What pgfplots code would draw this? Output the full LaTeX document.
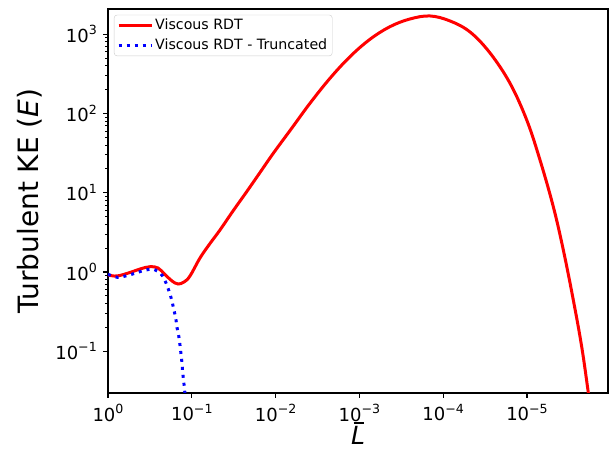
\documentclass[border=0pt]{standalone}
\usepackage{fontspec}
\setmainfont{DejaVu Sans}
\usepackage{pgfplots}
\pgfplotsset{compat=1.18}
\newcommand\sx[1]{\raisebox{0.42em}{\fontsize{12.6pt}{12.6pt}\selectfont #1}}
\begin{document}
\fontsize{18pt}{20pt}\selectfont
\begin{tikzpicture}
\useasboundingbox (-108pt,-56pt) rectangle (502pt,393pt);
\begin{axis}[
  at={(0pt,0pt)}, anchor=south west,
  scale only axis, width=500pt, height=384pt,
  xmode=log, ymode=log, x dir=reverse,
  xmin=1.08e-6, xmax=1, ymin=0.0298, ymax=2070,
  axis line style={line width=1.5pt},
  tick align=outside, xtick pos=left, ytick pos=left,
  major tick length=5pt, minor tick length=3pt,
  major tick style={line width=1.1pt, black},
  minor tick style={line width=0.8pt, black},
  xtick={1,0.1,0.01,0.001,0.0001,0.00001},
  xticklabels={10\sx{0},10\sx{−1},10\sx{−2},10\sx{−3},10\sx{−4},10\sx{−5}},
  ytick={0.1,1,10,100,1000},
  yticklabels={10\sx{−1},10\sx{0},10\sx{1},10\sx{2},10\sx{3}},
  tick label style={font=\fontsize{18pt}{20pt}\selectfont},
  xlabel={\rlap{\hspace{0.1em}\rule[0.82em]{0.42em}{0.08em}}\textit{L}},
  ylabel={Turbulent KE (\textit{E})},
  x label style={font=\fontsize{25pt}{27pt}\selectfont, at={(axis description cs:0.5,-0.133)},anchor=base},
  y label style={font=\fontsize{28pt}{30pt}\selectfont, at={(axis description cs:-0.157,0.5)},anchor=center},
  legend style={at={(axis description cs:0.012,0.985)}, anchor=north west,
    font=\fontsize{14.2pt}{16pt}\selectfont, draw=black!20, rounded corners=3pt,
    inner xsep=3pt, inner ysep=2pt, row sep=2pt},
  legend cell align=left,
  legend image code/.code={\draw[#1] (0pt,0pt) -- (33pt,0pt);},
]
\addplot[red, line width=3pt, smooth, tension=0.6] coordinates {
(1,0.9167) (0.7808,0.8903) (0.5463,0.9856) (0.4149,1.0909) (0.3153,1.1664)
(0.2531,1.1231) (0.2089,0.9300) (0.1723,0.7700) (0.1461,0.7058) (0.1239,0.7479)
(0.1051,0.8903) (0.07983,1.5016) (0.06064,2.288) (0.04608,3.385) (0.03224,5.877)
(0.02213,10.29) (0.01535,17.97) (0.01065,31.39) (6.425e-3,64.89) (3.887e-3,134.1)
(2.243e-3,277.1) (1.295e-3,518.8) (7.469e-4,860.0) (4.313e-4,1240) (2.490e-4,1550)
(1.437e-4,1691) (8.296e-5,1463) (4.789e-5,1063) (2.764e-5,577.8) (1.595e-5,239.7)
(1.008e-5,82.56) (7.00e-6,25.85) (4.856e-6,6.661) (3.687e-6,1.894) (2.802e-6,0.4434)
(2.225e-6,0.1143) (1.855e-6,0.03005) (1.676e-6,0.0136)
};
\addlegendentry{Viscous RDT}
\addplot[blue, line width=3pt, dash pattern=on 3pt off 5pt, smooth, tension=0.5] coordinates {
(1,0.935) (0.774,0.857) (0.598,0.898) (0.467,0.970) (0.369,1.049) (0.288,1.081)
(0.2333,0.944) (0.2046,0.741) (0.1871,0.575) (0.1738,0.444) (0.1644,0.341)
(0.1556,0.263) (0.1503,0.201) (0.1432,0.156) (0.1384,0.120) (0.1346,0.0925)
(0.1309,0.0706) (0.1285,0.0543) (0.1250,0.0419) (0.1216,0.0318) (0.1175,0.020)
};
\addlegendentry{Viscous RDT - Truncated}
\end{axis}
\end{tikzpicture}
\end{document}
